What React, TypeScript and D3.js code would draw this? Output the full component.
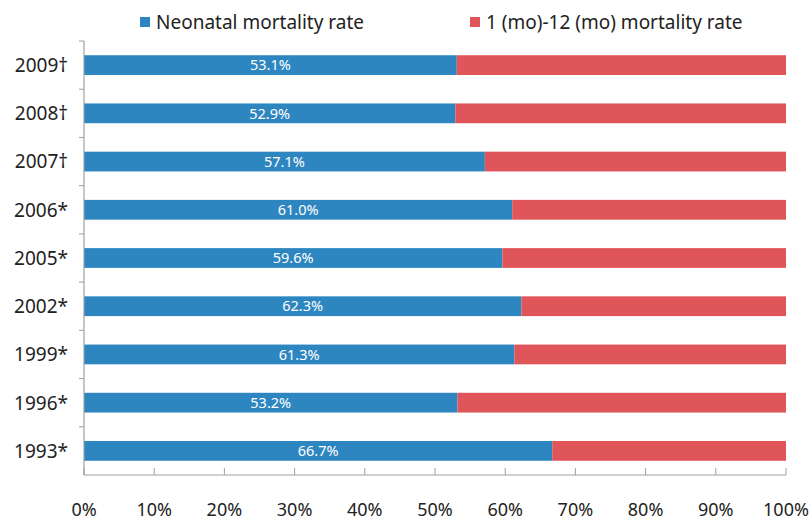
import { useRef, useEffect } from 'react';
import * as d3 from 'd3';

const years = ['2009†', '2008†', '2007†', '2006*', '2005*', '2002*', '1999*', '1996*', '1993*'];
const neonatal = [53.1, 52.9, 57.1, 61.0, 59.6, 62.3, 61.3, 53.2, 66.7];
const postNeonatal = [46.9, 47.1, 42.9, 39.0, 40.4, 37.7, 38.7, 46.8, 33.3];
const seriesNames = ['Neonatal mortality rate', '1 (mo)-12 (mo) mortality rate'];
const xTicks = [0, 10, 20, 30, 40, 50, 60, 70, 80, 90, 100];

const COLORS = ['#2e86c1', '#e0555a'];
const FONT = '"Noto Sans", "DejaVu Sans", sans-serif';

const W = 811;
const H = 523;

export default function App() {
  const svgRef = useRef<SVGSVGElement>(null);

  useEffect(() => {
    const svg = d3.select(svgRef.current);
    svg.selectAll('*').remove();

    const margin = { top: 41, right: 25, bottom: 48, left: 84 };
    const innerW = W - margin.left - margin.right;
    const innerH = H - margin.top - margin.bottom;

    const x = d3.scaleLinear().domain([0, 100]).range([0, innerW]);
    const y = d3.scaleBand().domain(years).range([0, innerH]).paddingInner(0.59).paddingOuter(0.295);
    const band = d3.scaleBand().domain(years).range([0, innerH]);

    const g = svg.append('g').attr('transform', `translate(${margin.left},${margin.top})`);

    const rows = years.map((yr, i) => ({ yr, a: neonatal[i], b: postNeonatal[i] }));

    // bars
    rows.forEach(r => {
      const yy = y(r.yr) || 0;
      g.append('rect')
        .attr('x', x(0)).attr('y', yy)
        .attr('width', x(r.a) - x(0)).attr('height', y.bandwidth())
        .attr('fill', COLORS[0]);
      g.append('rect')
        .attr('x', x(r.a)).attr('y', yy)
        .attr('width', x(r.a + r.b) - x(r.a)).attr('height', y.bandwidth())
        .attr('fill', COLORS[1]);
      g.append('text')
        .attr('x', x(r.a / 2)).attr('y', yy + y.bandwidth() / 2)
        .attr('dy', '0.36em')
        .attr('text-anchor', 'middle')
        .attr('font-family', FONT)
        .attr('font-size', 14.5)
        .attr('fill', '#fff')
        .text(`${r.a.toFixed(1)}%`);
    });

    const axisColor = '#a0a0a0';

    // left axis
    g.append('line')
      .attr('x1', 0).attr('x2', 0).attr('y1', 0).attr('y2', innerH)
      .attr('stroke', axisColor).attr('stroke-width', 1.2);
    years.forEach(yr => {
      const t = band(yr) || 0;
      g.append('line')
        .attr('x1', -5).attr('x2', 0).attr('y1', t).attr('y2', t)
        .attr('stroke', axisColor);
      g.append('text')
        .attr('x', -16).attr('y', (y(yr) || 0) + y.bandwidth() / 2)
        .attr('dy', '0.36em')
        .attr('text-anchor', 'end')
        .attr('font-family', FONT)
        .attr('font-size', 19)
        .attr('fill', '#222')
        .text(yr);
    });

    // bottom axis
    g.append('line')
      .attr('x1', 0).attr('x2', innerW).attr('y1', innerH).attr('y2', innerH)
      .attr('stroke', axisColor).attr('stroke-width', 1.2);
    xTicks.forEach(t => {
      g.append('line')
        .attr('x1', x(t)).attr('x2', x(t)).attr('y1', innerH - 7).attr('y2', innerH)
        .attr('stroke', axisColor);
      g.append('text')
        .attr('x', x(t)).attr('y', innerH + 35)
        .attr('dy', '0.36em')
        .attr('text-anchor', 'middle')
        .attr('font-family', FONT)
        .attr('font-size', 18)
        .attr('fill', '#222')
        .text(`${t}%`);
    });

    // legend
    const legendX = [140, 470];
    seriesNames.forEach((name, i) => {
      svg.append('rect')
        .attr('x', legendX[i]).attr('y', 17)
        .attr('width', 10).attr('height', 10)
        .attr('fill', COLORS[i]);
      svg.append('text')
        .attr('x', legendX[i] + 16).attr('y', 22)
        .attr('dy', '0.36em')
        .attr('font-family', FONT)
        .attr('font-size', 19)
        .attr('fill', '#222')
        .text(name);
    });
  }, []);

  return (
    <svg
      ref={svgRef}
      width={W}
      height={H}
      style={{ position: 'absolute', left: 0, top: 0, background: '#fff' }}
    />
  );
}
